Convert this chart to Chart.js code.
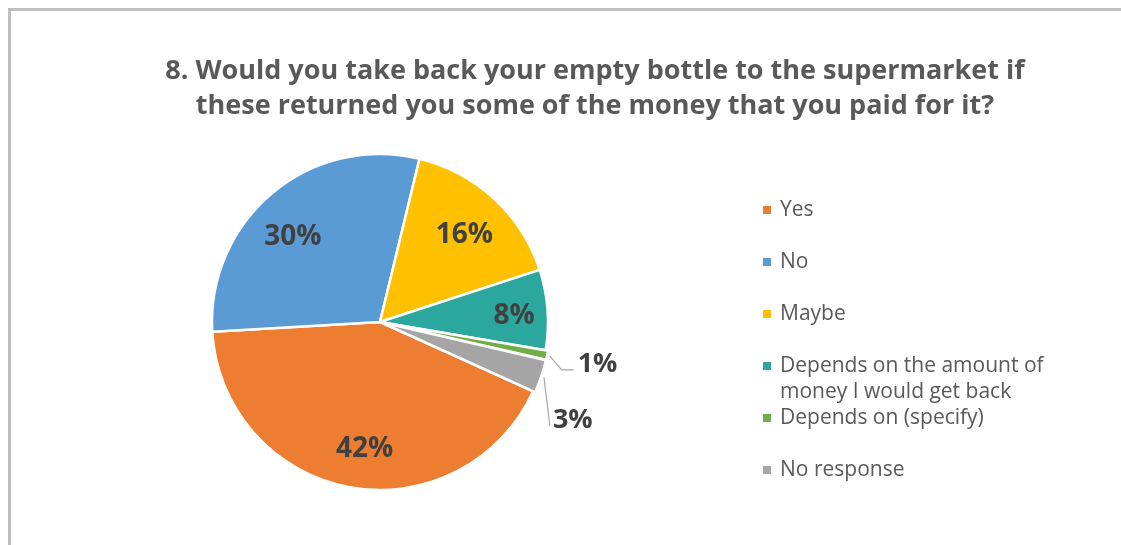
<!DOCTYPE html>
<html>
<head>
<meta charset="utf-8">
<script src="https://cdn.jsdelivr.net/npm/chart.js@4.4.1/dist/chart.umd.min.js"></script>
<style>
  html, body { margin: 0; padding: 0; overflow: hidden; background: #fff; width: 1121px; height: 545px; }
  #frame { position: absolute; left: 8px; top: 8px; width: 1200px; height: 600px; border: 3px solid #bfbfbf; }
  #ctx { position: absolute; left: 0; top: 0; }
</style>
</head>
<body>
<div id="frame"></div>
<canvas id="ctx" width="1190" height="600"></canvas>
<script>
const titleText = '8. Would you take back your empty bottle to the supermarket if these returned you some of the money that you paid for it?';
const categories = ['Yes', 'No', 'Maybe', 'Depends on the amount of money I would get back', 'Depends on (specify)', 'No response'];
const shares = [42.3, 29.7, 16.2, 7.7, 0.9, 3.2];
const sliceColors = ['#ED7D31', '#5B9BD5', '#FFC000', '#2CA79E', '#70AD47', '#A5A5A5'];

function wrapText(c, text, maxWidth) {
    const words = text.split(' ');
    const lines = [];
    let line = '';
    words.forEach(w => {
        const test = line ? line + ' ' + w : w;
        if (line && c.measureText(test).width > maxWidth) {
            lines.push(line);
            line = w;
        } else {
            line = test;
        }
    });
    if (line) lines.push(line);
    return lines;
}

// title, slice labels and legend drawn on top of the pie
const pieText = {
    id: 'pieText',
    afterDraw(chart) {
        const c = chart.ctx;
        const arcs = chart.getDatasetMeta(0).data;
        c.save();

        // title
        c.fillStyle = '#595959';
        c.font = 'bold 27px "Open Sans"';
        c.textAlign = 'center';
        c.textBaseline = 'middle';
        wrapText(c, titleText, 900).forEach((line, i) => c.fillText(line, 595, 71 + i * 35));

        // percentage labels
        c.font = 'bold 28px "Open Sans"';
        c.fillStyle = '#404040';
        arcs.forEach((arc, i) => {
            const p = arc.getProps(['x', 'y', 'startAngle', 'endAngle', 'outerRadius'], true);
            let mid = (p.startAngle + p.endAngle) / 2;
            const txt = Math.round(shares[i]) + '%';
            if (i < 4) {
                if (i === 0) mid -= 0.06;
                if (i === 1) mid -= 0.08;
                const d = p.outerRadius * (i === 3 ? 0.8 : 0.74);
                c.textAlign = 'center';
                c.fillText(txt, p.x + Math.cos(mid) * d, p.y + Math.sin(mid) * d + 4);
                return;
            }
            const r = p.outerRadius + arc.options.offset;
            const ex = p.x + Math.cos(mid) * r;
            const ey = p.y + Math.sin(mid) * r;
            c.strokeStyle = '#a6a6a6';
            c.lineWidth = 1.2;
            c.beginPath();
            c.moveTo(ex, ey);
            c.textAlign = 'left';
            c.font = 'bold 27px "Open Sans"';
            if (i === 4) {
                c.lineTo(ex + 12, ey + 14);
                c.lineTo(ex + 24, ey + 14);
                c.stroke();
                c.fillText(txt, ex + 28, ey + 9);
            } else {
                c.lineTo(ex + 6, ey + 49);
                c.stroke();
                c.fillText(txt, ex + 9, ey + 43);
            }
        });

        // legend
        c.font = '21px "Open Sans"';
        c.textAlign = 'left';
        categories.forEach((label, i) => {
            const y = 210 + i * 52;
            c.fillStyle = sliceColors[i];
            c.fillRect(763, y - 4, 8, 8);
            c.fillStyle = '#595959';
            wrapText(c, label, 275).forEach((line, j) => c.fillText(line, 780, y + j * 26));
        });

        c.restore();
    }
};

const config = {
    type: 'pie',
    data: {
        labels: categories,
        datasets: [{
            data: shares,
            backgroundColor: sliceColors,
            borderColor: '#ffffff',
            borderWidth: 2.5,
            offset: [0, 0, 0, 0, 5, 5],
            radius: 168,
        }]
    },
    options: {
        responsive: false,
        animation: false,
        rotation: 114.4,
        layout: {
            padding: { left: 182, right: 612, top: 124, bottom: 80 }
        },
        plugins: {
            legend: { display: false },
            title: { display: false },
            tooltip: { enabled: false },
        }
    },
    plugins: [pieText]
};

const graphChart = new Chart(document.getElementById('ctx').getContext('2d'), config);
</script>
</body>
</html>
